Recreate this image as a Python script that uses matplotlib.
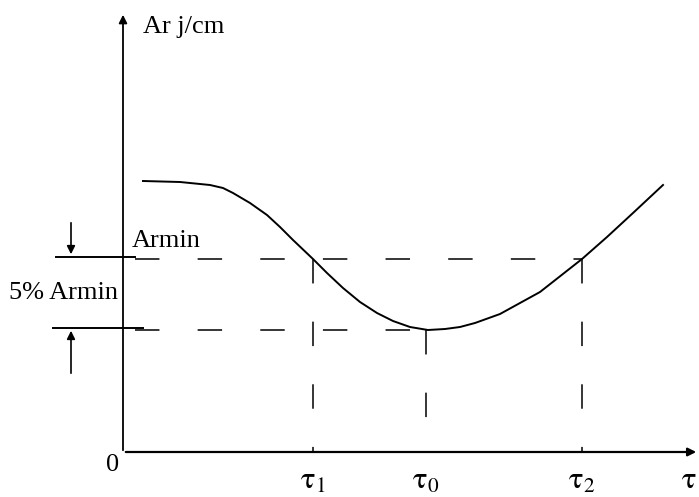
import numpy as np
import matplotlib
matplotlib.use('Agg')
import matplotlib.pyplot as plt

plt.rcParams['font.family'] = ['Liberation Serif', 'DejaVu Serif']
plt.rcParams['mathtext.fontset'] = 'stix'

# Curve of Ar against tau (origin at the axis corner)
tau = [20, 57, 87, 100, 110, 127, 144, 157, 170, 190, 204, 220, 237, 254, 270, 287, 305,
       322, 337, 352, 377, 417, 459, 484, 510, 540]
ar = [271, 270, 267, 264, 259, 249, 237, 225, 212, 193, 179, 164, 150, 139, 131, 125, 122,
      123, 125, 129, 138, 160, 193, 215, 239, 267]

tau_marks = [190, 303, 459]
tau_names = [r'$\mathrm{\tau}_1$', r'$\mathrm{\tau}_0$', r'$\mathrm{\tau}_2$']
ar_min_level = 193
ar_bottom = 122

fig = plt.figure(figsize=(6.99, 4.97), dpi=100)
ax = fig.add_axes([0, 0, 1, 1])
ax.set_xlim(-123, 576)
ax.set_ylim(-45, 452)
ax.axis('off')

# axes with arrow heads
ax.annotate('', xy=(576, 0), xytext=(0, 0),
            arrowprops=dict(arrowstyle='-|>', color='black', lw=1.6, mutation_scale=12))
ax.annotate('', xy=(0, 440), xytext=(0, -1),
            arrowprops=dict(arrowstyle='-|>', color='black', lw=1.3, mutation_scale=12))

ax.plot(tau, ar, color='black', lw=1.4)

dash = (0, (16, 25))
ax.plot([12, tau_marks[2]], [ar_min_level, ar_min_level], color='black', lw=1.1, linestyle=dash)
ax.plot([12, tau_marks[1]], [ar_bottom, ar_bottom], color='black', lw=1.1, linestyle=dash)
ax.plot([tau_marks[0], tau_marks[0]], [ar_min_level, 0], color='black', lw=1.1, linestyle=dash)
ax.plot([tau_marks[1], tau_marks[1]], [ar_bottom, 0], color='black', lw=1.1, linestyle=dash)
ax.plot([tau_marks[2], tau_marks[2]], [ar_min_level, 0], color='black', lw=1.1, linestyle=dash)

# 5% band markers on the left
ax.plot([-67, 12], [ar_min_level + 2, ar_min_level + 2], color='black', lw=1.4)
ax.plot([-70, 20], [ar_bottom + 2, ar_bottom + 2], color='black', lw=1.4)
ax.annotate('', xy=(-52, ar_min_level + 2), xytext=(-52, 232),
            arrowprops=dict(arrowstyle='-|>', color='black', lw=1.2, mutation_scale=12))
ax.annotate('', xy=(-52, ar_bottom + 2), xytext=(-52, 76),
            arrowprops=dict(arrowstyle='-|>', color='black', lw=1.2, mutation_scale=12))

ax.text(20, 425, 'Ar j/cm', fontsize=19, va='center', ha='left')
ax.text(9, 211, 'Armin', fontsize=19, va='center', ha='left')
ax.text(-114, 159, '5% Armin', fontsize=19, va='center', ha='left')
ax.text(-10, -13, '0', fontsize=19, va='center', ha='center')

for x, name in zip(tau_marks, tau_names):
    ax.text(x, -29, name, fontsize=22, va='center', ha='center')
ax.text(566, -29, r'$\mathrm{\tau}$', fontsize=22, va='center', ha='center')

fig.savefig('out.png', dpi=100, facecolor='white')
